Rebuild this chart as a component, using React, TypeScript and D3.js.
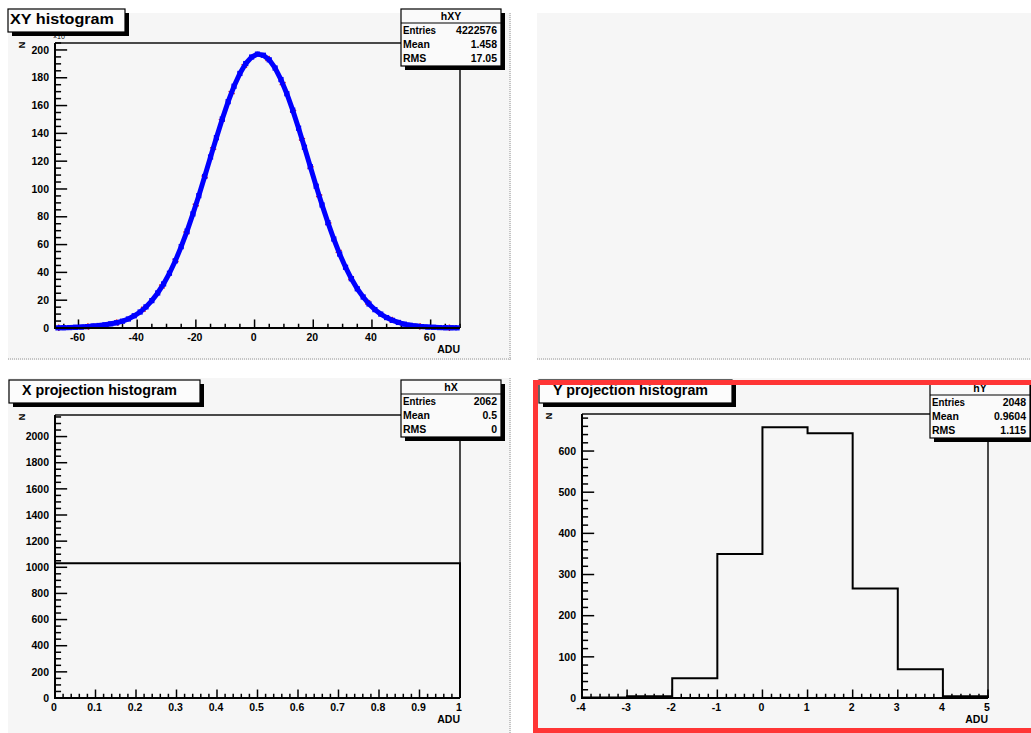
import * as d3 from "d3";
import { useEffect, useRef } from "react";

const W = 1031;
const H = 733;
const FONT = "'Liberation Sans', Arial, Helvetica, sans-serif";
const PAD_BG = "#f6f6f6";

// hXY: 2-unit bins starting at -68, counts in units of 10^3
const XY_BIN_START = -68;
const XY_BIN_WIDTH = 2;
const XY_COUNTS = [
	0.1, 0.2, 0.3, 0.5, 0.7, 1.0, 1.4, 1.8, 2.3, 3.0, 3.8, 4.9, 6.5, 8.8, 11.5, 15.2, 19.7, 25.2, 31.7, 39.4,
	48.3, 58.5, 69.7, 82.1, 95.2, 109.0, 123.0, 136.9, 150.3, 162.8, 173.9, 183.1, 190.2, 194.9, 197.0, 196.2,
	192.9, 187.0, 178.7, 168.5, 156.7, 143.7, 130.0, 116.0, 102.0, 88.5, 75.8, 64.0, 53.2, 43.7, 35.4, 28.2,
	22.3, 17.3, 13.2, 10.0, 7.5, 5.5, 4.0, 2.8, 2.0, 1.4, 1.0, 0.7, 0.5, 0.3, 0.2, 0.15, 0.1,
];
const XY_STATS = [
	["Entries", "4222576"],
	["Mean", "1.458"],
	["RMS", "17.05"],
];

// hX: a single bin over [0, 1]
const X_EDGES = [0, 1];
const X_COUNTS = [1031];
const X_STATS = [
	["Entries", "2062"],
	["Mean", "0.5"],
	["RMS", "0"],
];

// hY: unit bins from -4 to 5
const Y_EDGES = [-4, -3, -2, -1, 0, 1, 2, 3, 4, 5];
const Y_COUNTS = [1, 4, 48, 350, 658, 643, 266, 70, 4];
const Y_STATS = [
	["Entries", "2048"],
	["Mean", "0.9604"],
	["RMS", "1.115"],
];

type Frame = { x0: number; x1: number; y0: number; y1: number };
type Axis = { domain: [number, number]; major: number; minor: number; fmt: (v: number) => string };
type G = d3.Selection<SVGGElement, unknown, null, undefined>;

function drawPadBg(g: G, x: number, y: number, w: number, h: number) {
	g.append("rect").attr("x", x).attr("y", y).attr("width", w).attr("height", h).attr("fill", PAD_BG);
	// bevel on right / bottom
	g.append("line")
		.attr("x1", x + w - 1)
		.attr("x2", x + w - 1)
		.attr("y1", y)
		.attr("y2", y + h)
		.attr("stroke", "#c4c4c4")
		.attr("stroke-width", 2)
		.attr("stroke-dasharray", "1,1");
	g.append("line")
		.attr("x1", x)
		.attr("x2", x + w)
		.attr("y1", y + h - 1)
		.attr("y2", y + h - 1)
		.attr("stroke", "#c4c4c4")
		.attr("stroke-width", 2)
		.attr("stroke-dasharray", "1,1");
}

function ticksOf(domain: [number, number], step: number) {
	const out: number[] = [];
	const start = Math.ceil(domain[0] / step - 1e-9);
	const end = Math.floor(domain[1] / step + 1e-9);
	for (let i = start; i <= end; i++) out.push(+(i * step).toFixed(6));
	return out;
}

function drawFrame(g: G, f: Frame, xa: Axis, ya: Axis) {
	const x = d3.scaleLinear().domain(xa.domain).range([f.x0, f.x1]);
	const y = d3.scaleLinear().domain(ya.domain).range([f.y1, f.y0]);

	// top and right frame lines
	g.append("path")
		.attr("d", `M${f.x0},${f.y0}H${f.x1}V${f.y1}`)
		.attr("fill", "none")
		.attr("stroke", "#111")
		.attr("stroke-width", 1.5);

	const xMajorLen = (f.y1 - f.y0) * 0.03;
	const yMajorLen = (f.x1 - f.x0) * 0.03;

	ticksOf(xa.domain, xa.minor).forEach((v) => {
		const isMajor = Math.abs(v / xa.major - Math.round(v / xa.major)) < 1e-6;
		const len = isMajor ? xMajorLen : xMajorLen / 2;
		g.append("line")
			.attr("x1", x(v))
			.attr("x2", x(v))
			.attr("y1", f.y1)
			.attr("y2", f.y1 - len)
			.attr("stroke", "#000")
			.attr("stroke-width", 1.5);
	});
	ticksOf(xa.domain, xa.major).forEach((v) => {
		g.append("text")
			.attr("x", x(v) - 1)
			.attr("y", f.y1 + 13)
			.attr("text-anchor", "middle")
			.attr("font-family", FONT)
			.attr("font-weight", "bold")
			.attr("font-size", 10.5)
			.text(xa.fmt(v));
	});

	ticksOf(ya.domain, ya.minor).forEach((v) => {
		const isMajor = Math.abs(v / ya.major - Math.round(v / ya.major)) < 1e-6;
		const len = isMajor ? yMajorLen : yMajorLen / 2;
		g.append("line")
			.attr("x1", f.x0)
			.attr("x2", f.x0 + len)
			.attr("y1", y(v))
			.attr("y2", y(v))
			.attr("stroke", "#000")
			.attr("stroke-width", 1.5);
	});
	ticksOf(ya.domain, ya.major).forEach((v) => {
		g.append("text")
			.attr("x", f.x0 - 6)
			.attr("y", y(v) + 3.7)
			.attr("text-anchor", "end")
			.attr("font-family", FONT)
			.attr("font-weight", "bold")
			.attr("font-size", 10.5)
			.text(ya.fmt(v));
	});

	// axis titles
	g.append("text")
		.attr("x", f.x1)
		.attr("y", f.y1 + 25)
		.attr("text-anchor", "end")
		.attr("font-family", FONT)
		.attr("font-weight", "bold")
		.attr("font-size", 10.5)
		.text("ADU");
	g.append("text")
		.attr("transform", `translate(${f.x0 - 30},${f.y0 + 2}) rotate(-90)`)
		.attr("text-anchor", "middle")
		.attr("font-family", FONT)
		.attr("font-weight", "bold")
		.attr("font-size", 9)
		.text("N");

	return { x, y };
}

function drawAxisLines(g: G, f: Frame) {
	g.append("path")
		.attr("d", `M${f.x0},${f.y0}V${f.y1}H${f.x1}`)
		.attr("fill", "none")
		.attr("stroke", "#000")
		.attr("stroke-width", 2);
}

function drawStats(g: G, bx: number, by: number, name: string, rows: string[][]) {
	const bw = 100;
	const bh = 57;
	g.append("rect").attr("x", bx + 4).attr("y", by + 4).attr("width", bw).attr("height", bh).attr("fill", "#000");
	g.append("rect")
		.attr("x", bx)
		.attr("y", by)
		.attr("width", bw)
		.attr("height", bh)
		.attr("fill", "#fafafa")
		.attr("stroke", "#000")
		.attr("stroke-width", 1.2);
	g.append("line")
		.attr("x1", bx)
		.attr("x2", bx + bw)
		.attr("y1", by + 14)
		.attr("y2", by + 14)
		.attr("stroke", "#000")
		.attr("stroke-width", 1.2);
	g.append("text")
		.attr("x", bx + bw / 2)
		.attr("y", by + 11)
		.attr("text-anchor", "middle")
		.attr("font-family", FONT)
		.attr("font-weight", "bold")
		.attr("font-size", 10.5)
		.text(name);
	rows.forEach(([k, v], i) => {
		const ty = by + 24.5 + i * 14;
		g.append("text")
			.attr("x", bx + 2)
			.attr("y", ty)
			.attr("font-family", FONT)
			.attr("font-weight", "bold")
			.attr("font-size", 10.5)
			.attr("textLength", k === "Entries" ? 33 : null)
			.attr("lengthAdjust", "spacingAndGlyphs")
			.text(k);
		g.append("text")
			.attr("x", bx + bw - 4)
			.attr("y", ty)
			.attr("text-anchor", "end")
			.attr("font-family", FONT)
			.attr("font-weight", "bold")
			.attr("font-size", 10.5)
			.text(v);
	});
}

function drawTitle(g: G, bx: number, by: number, bw: number, text: string, tx: number, size: number, len: number) {
	const bh = 23;
	g.append("rect").attr("x", bx + 4).attr("y", by + 4).attr("width", bw).attr("height", bh).attr("fill", "#000");
	g.append("rect")
		.attr("x", bx)
		.attr("y", by)
		.attr("width", bw)
		.attr("height", bh)
		.attr("fill", "#fcfcfc")
		.attr("stroke", "#000")
		.attr("stroke-width", 1.2);
	g.append("text")
		.attr("x", tx)
		.attr("y", by + 15)
		.attr("font-family", FONT)
		.attr("font-weight", "bold")
		.attr("font-size", size)
		.attr("textLength", len)
		.attr("lengthAdjust", "spacingAndGlyphs")
		.text(text);
}

function drawStepHist(
	g: G,
	x: d3.ScaleLinear<number, number>,
	y: d3.ScaleLinear<number, number>,
	edges: number[],
	counts: number[]
) {
	const path = d3.path();
	path.moveTo(x(edges[0]), y(0));
	counts.forEach((c, i) => {
		path.lineTo(x(edges[i]), y(c));
		path.lineTo(x(edges[i + 1]), y(c));
	});
	path.lineTo(x(edges[edges.length - 1]), y(0));
	g.append("path").attr("d", path.toString()).attr("fill", "none").attr("stroke", "#000").attr("stroke-width", 2);
}

export default function App() {
	const svgRef = useRef<SVGSVGElement>(null);

	useEffect(() => {
		const svg = svgRef.current;
		if (!svg) return;
		const sel = d3.select(svg);
		sel.selectAll("*").remove();
		const root = sel.append("g");

		root.append("rect").attr("width", W).attr("height", H).attr("fill", "#fff");

		// ---------- pads ----------
		drawPadBg(root, 8, 13, 503, 347);
		drawPadBg(root, 537, 13, 496, 347);
		drawPadBg(root, 8, 378, 503, 358);
		drawPadBg(root, 537, 378, 496, 358);

		// ---------- XY histogram ----------
		{
			const f: Frame = { x0: 55, x1: 460, y0: 43, y1: 328 };
			const { x, y } = drawFrame(
				root,
				f,
				{ domain: [-68, 70], major: 20, minor: 5, fmt: (v) => String(v) },
				{ domain: [0, 205], major: 20, minor: 5, fmt: (v) => String(v) }
			);
			const pts = XY_COUNTS.map((c, i) => ({ cx: XY_BIN_START + XY_BIN_WIDTH * (i + 0.5), c }));
			const line = d3
				.line<{ cx: number; c: number }>()
				.x((d) => x(d.cx))
				.y((d) => y(d.c));
			// red histogram line peeking out from under the markers
			root.append("path")
				.datum(pts)
				.attr("d", line)
				.attr("fill", "none")
				.attr("stroke", "#e02020")
				.attr("stroke-width", 6.5)
				.attr("stroke-dasharray", "1.5,28");
			root.append("path")
				.datum(pts)
				.attr("d", line)
				.attr("fill", "none")
				.attr("stroke", "#0000ff")
				.attr("stroke-width", 5);
			root.selectAll("rect.m")
				.data(pts)
				.join("rect")
				.attr("class", "m")
				.attr("x", (d) => x(d.cx) - 2.6)
				.attr("y", (d) => y(d.c) - 2.6)
				.attr("width", 5.2)
				.attr("height", 5.2)
				.attr("fill", "#0000ff");
			drawAxisLines(root, f);
			// x10^3 exponent
			root.append("text")
				.attr("x", 53)
				.attr("y", 39)
				.attr("font-family", FONT)
				.attr("font-size", 7)
				.text("\u00d710");
			root.append("text")
				.attr("x", 64)
				.attr("y", 36)
				.attr("font-family", FONT)
				.attr("font-size", 5)
				.text("3");
			drawStats(root, 401, 9, "hXY", XY_STATS);
			drawTitle(root, 8, 9, 117, "XY histogram", 10, 15, 104);
		}

		// ---------- X projection ----------
		{
			const f: Frame = { x0: 55, x1: 460, y0: 415, y1: 698 };
			const { x, y } = drawFrame(
				root,
				f,
				{ domain: [0, 1], major: 0.1, minor: 0.02, fmt: (v) => String(+v.toFixed(1)) },
				{ domain: [0, 2165], major: 200, minor: 50, fmt: (v) => String(v) }
			);
			drawStepHist(root, x, y, X_EDGES, X_COUNTS);
			drawAxisLines(root, f);
			drawStats(root, 401, 380, "hX", X_STATS);
			drawTitle(root, 9, 380, 191, "X projection histogram", 22, 14, 155);
		}

		// ---------- Y projection ----------
		{
			const f: Frame = { x0: 582, x1: 988, y0: 414, y1: 698 };
			const { x, y } = drawFrame(
				root,
				f,
				{ domain: [-4, 5], major: 1, minor: 0.2, fmt: (v) => String(v) },
				{ domain: [0, 690], major: 100, minor: 20, fmt: (v) => String(v) }
			);
			drawStepHist(root, x, y, Y_EDGES, Y_COUNTS);
			drawAxisLines(root, f);
			drawStats(root, 930, 381, "hY", Y_STATS);
			drawTitle(root, 539, 380, 193, "Y projection histogram", 553, 14, 155);
			// active pad highlight
			root.append("rect")
				.attr("x", 535.5)
				.attr("y", 382.5)
				.attr("width", 510)
				.attr("height", 348)
				.attr("fill", "none")
				.attr("stroke", "#ff3535")
				.attr("stroke-width", 5);
		}
	}, []);

	return (
		<svg
			ref={svgRef}
			width={W}
			height={H}
			viewBox={`0 0 ${W} ${H}`}
			style={{ position: "absolute", left: 0, top: 0, display: "block" }}
		/>
	);
}
